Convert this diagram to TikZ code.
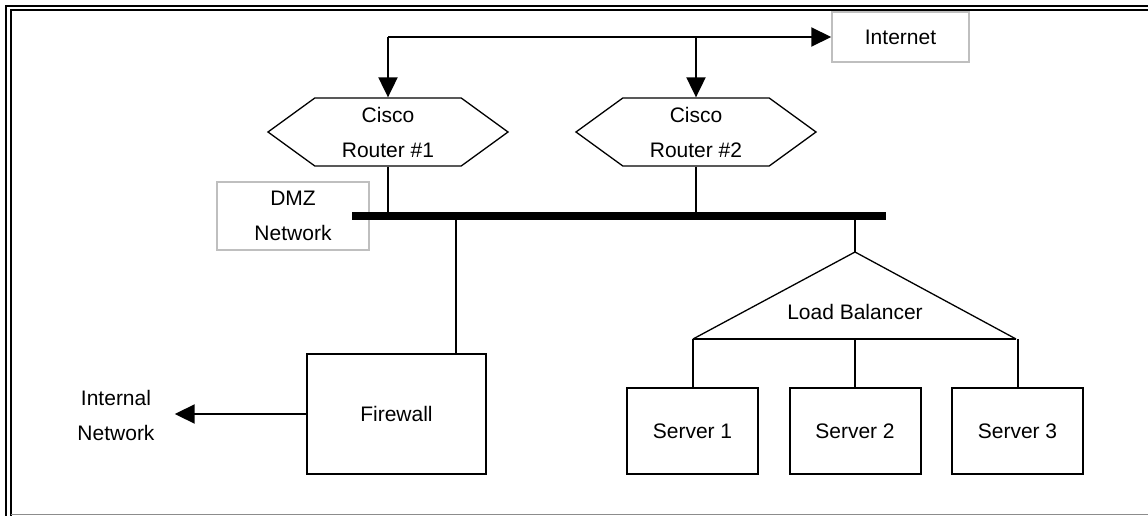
\documentclass[tikz,border=0pt]{standalone}
\usepackage{fontspec}
\setmainfont{Liberation Sans}
\usetikzlibrary{arrows.meta,shapes.symbols}

\begin{document}
\begin{tikzpicture}[x=1pt,y=-1pt,
  font=\fontsize{21}{35}\selectfont,
  box/.style={draw, line width=2pt, rectangle, inner sep=0pt},
  tag/.style={draw=black!25, line width=1.5pt, rectangle, inner sep=0pt, align=center},
  router/.style={draw, line width=1.3pt, signal, signal to=east and west,
    signal pointer angle=72, minimum width=240pt, minimum height=68pt,
    inner sep=0pt, align=center},
  link/.style={line width=2pt},
  arr/.style={link, -{Triangle[length=20pt,width=19pt]}}]
\useasboundingbox (0,0) rectangle (1148,516);

% double frame
\draw[line width=2pt] (6,516) -- (6,6) -- (1148,6);
\draw[line width=2pt] (10.5,516) -- (10.5,10.5) -- (1148,10.5);
\draw[black!45, line width=1.5pt] (10.5,514.5) -- (1148,514.5);

\node[router] (r1) at (388,132) {Cisco\\Router \#1};
\node[router] (r2) at (696,132) {Cisco\\Router \#2};
\node[tag, minimum width=137pt, minimum height=50pt] (inet) at (900.5,37) {Internet};
\node[tag, minimum width=152pt, minimum height=68pt] (dmz) at (293,216) {DMZ\\Network};

% DMZ segment
\coordinate (busW) at (352,216);
\coordinate (busE) at (886,216);
\draw[line width=8pt] (busW) -- (busE);

% uplink to the internet
\coordinate (wan) at (388,37);
\draw[arr] (wan) -- (inet.west);
\draw[arr] (wan) -- (r1.north);
\draw[arr] (r2 |- wan) -- (r2.north);
\draw[link] (r1.south) -- (r1 |- busW);
\draw[link] (r2.south) -- (r2 |- busW);

% firewall side
\node[box, minimum width=179pt, minimum height=120pt] (fw) at (396.5,414) {Firewall};
\node[align=center, inner xsep=20pt] (lan) at (116,415) {Internal\\Network};
\coordinate (fwtap) at (456,216);
\draw[link] (fwtap) -- (fwtap |- fw.north);
\draw[arr] (fw.west) -- (lan.east |- fw.west);

% load balancer and servers
\coordinate (lbtop) at (855,252);
\coordinate (lbl) at (693,339);
\coordinate (lbr) at (1016,339);
\draw[line width=1.3pt] (lbl) -- (lbtop) -- (lbr);
\draw[link] (lbl) -- (lbr);
\node (lb) at (855,312) {Load Balancer};
\draw[link] (lbtop |- busW) -- (lbtop);

\node[box, minimum width=131pt, minimum height=86pt] (s1) at (692.5,431) {Server 1};
\node[box, minimum width=131pt, minimum height=86pt] (s2) at (855,431) {Server 2};
\node[box, minimum width=131pt, minimum height=86pt] (s3) at (1017.5,431) {Server 3};
\draw[link] (s1.north) -- (s1 |- lbl);
\draw[link] (s2.north) -- (s2 |- lbl);
\draw[link] (s3.north) -- (s3 |- lbl);
\end{tikzpicture}
\end{document}
